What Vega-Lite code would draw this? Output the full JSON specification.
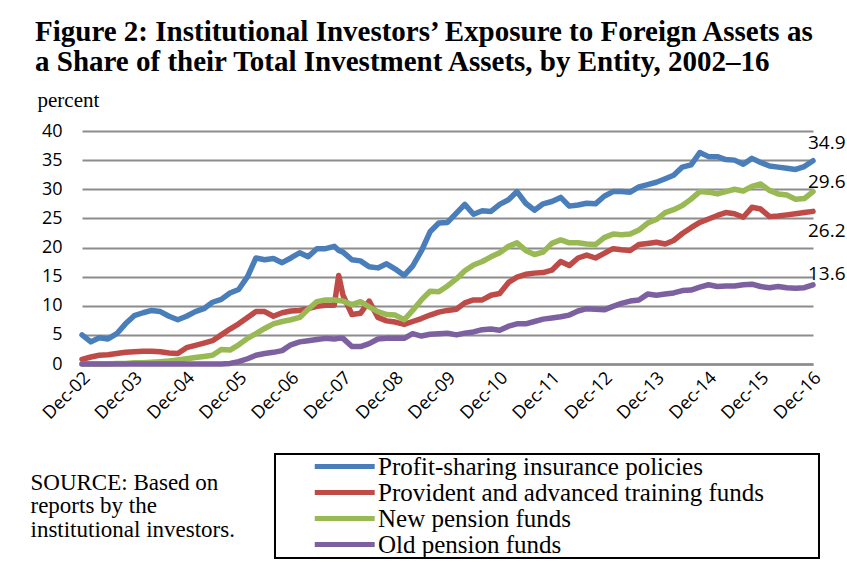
{
  "$schema": "https://vega.github.io/schema/vega-lite/v6.json",
  "width": 731,
  "height": 233,
  "autosize": {"type": "none"},
  "padding": {"left": 82, "top": 131, "right": 34, "bottom": 198},
  "background": "white",
  "title": {
    "text": ["Figure 2: Institutional Investors’ Exposure to Foreign Assets as", "a Share of their Total Investment Assets, by Entity, 2002–16"],
    "anchor": "start",
    "frame": "group",
    "font": "Liberation Serif",
    "fontSize": 29,
    "fontWeight": "bold",
    "color": "black",
    "lineHeight": 30,
    "dx": -47,
    "dy": -2,
    "offset": 10
  },
  "data": {
    "format": {"parse": {"d": "utc:'%Y-%m'"}},
    "values": [
      {"d": "2002-12", "p": 5.0, "r": 0.8, "n": 0.0, "o": 0.0},
      {"d": "2003-02", "p": 3.8, "r": 1.2, "n": 0.0, "o": 0.0},
      {"d": "2003-04", "p": 4.5, "r": 1.5, "n": 0.0, "o": 0.0},
      {"d": "2003-06", "p": 4.3, "r": 1.6, "n": 0.0, "o": 0.0},
      {"d": "2003-08", "p": 5.2, "r": 1.8, "n": 0.1, "o": 0.0},
      {"d": "2003-10", "p": 6.9, "r": 2.0, "n": 0.1, "o": 0.0},
      {"d": "2003-12", "p": 8.3, "r": 2.1, "n": 0.2, "o": 0.0},
      {"d": "2004-02", "p": 8.8, "r": 2.2, "n": 0.2, "o": 0.0},
      {"d": "2004-04", "p": 9.2, "r": 2.2, "n": 0.3, "o": 0.0},
      {"d": "2004-06", "p": 9.0, "r": 2.1, "n": 0.4, "o": 0.0},
      {"d": "2004-08", "p": 8.2, "r": 1.9, "n": 0.5, "o": 0.0},
      {"d": "2004-10", "p": 7.6, "r": 1.8, "n": 0.7, "o": 0.0},
      {"d": "2004-12", "p": 8.2, "r": 2.8, "n": 0.9, "o": 0.0},
      {"d": "2005-02", "p": 9.0, "r": 3.2, "n": 1.1, "o": 0.0},
      {"d": "2005-04", "p": 9.5, "r": 3.6, "n": 1.3, "o": 0.0},
      {"d": "2005-06", "p": 10.6, "r": 4.0, "n": 1.5, "o": 0.0},
      {"d": "2005-08", "p": 11.1, "r": 5.0, "n": 2.5, "o": 0.0},
      {"d": "2005-10", "p": 12.2, "r": 6.0, "n": 2.4, "o": 0.1},
      {"d": "2005-12", "p": 12.8, "r": 6.9, "n": 3.3, "o": 0.4},
      {"d": "2006-02", "p": 15.0, "r": 8.0, "n": 4.4, "o": 0.9},
      {"d": "2006-04", "p": 18.2, "r": 9.0, "n": 5.2, "o": 1.5},
      {"d": "2006-06", "p": 17.9, "r": 9.0, "n": 6.1, "o": 1.8},
      {"d": "2006-08", "p": 18.1, "r": 8.2, "n": 6.9, "o": 2.0},
      {"d": "2006-10", "p": 17.4, "r": 8.8, "n": 7.3, "o": 2.3},
      {"d": "2006-12", "p": 18.2, "r": 9.1, "n": 7.6, "o": 3.3},
      {"d": "2007-02", "p": 19.1, "r": 9.2, "n": 8.0, "o": 3.8},
      {"d": "2007-04", "p": 18.4, "r": 9.5, "n": 9.4, "o": 4.0},
      {"d": "2007-06", "p": 19.8, "r": 9.9, "n": 10.7, "o": 4.2},
      {"d": "2007-08", "p": 19.8, "r": 10.1, "n": 11.0, "o": 4.4},
      {"d": "2007-10", "p": 20.2, "r": 10.1, "n": 11.0, "o": 4.3},
      {"d": "2007-11", "p": 19.5, "r": 15.2, "n": 10.9, "o": 4.4},
      {"d": "2007-12", "p": 19.2, "r": 11.8, "n": 10.8, "o": 4.4},
      {"d": "2008-02", "p": 17.9, "r": 8.5, "n": 10.2, "o": 3.0},
      {"d": "2008-04", "p": 17.7, "r": 8.7, "n": 10.7, "o": 3.0},
      {"d": "2008-06", "p": 16.7, "r": 10.8, "n": 9.8, "o": 3.5},
      {"d": "2008-08", "p": 16.5, "r": 8.0, "n": 9.0, "o": 4.3},
      {"d": "2008-10", "p": 17.2, "r": 7.4, "n": 8.5, "o": 4.4},
      {"d": "2008-12", "p": 16.3, "r": 7.2, "n": 8.4, "o": 4.4},
      {"d": "2009-02", "p": 15.2, "r": 6.8, "n": 7.6, "o": 4.4},
      {"d": "2009-04", "p": 16.8, "r": 7.3, "n": 9.2, "o": 5.2},
      {"d": "2009-06", "p": 19.4, "r": 7.8, "n": 11.0, "o": 4.8},
      {"d": "2009-08", "p": 22.7, "r": 8.4, "n": 12.5, "o": 5.1},
      {"d": "2009-10", "p": 24.2, "r": 8.9, "n": 12.4, "o": 5.2},
      {"d": "2009-12", "p": 24.3, "r": 9.2, "n": 13.4, "o": 5.3},
      {"d": "2010-02", "p": 25.9, "r": 9.4, "n": 14.6, "o": 5.0},
      {"d": "2010-04", "p": 27.4, "r": 10.5, "n": 16.0, "o": 5.3},
      {"d": "2010-06", "p": 25.7, "r": 11.0, "n": 17.0, "o": 5.5},
      {"d": "2010-08", "p": 26.3, "r": 11.0, "n": 17.6, "o": 5.9},
      {"d": "2010-10", "p": 26.2, "r": 11.8, "n": 18.4, "o": 6.0},
      {"d": "2010-12", "p": 27.4, "r": 12.1, "n": 19.1, "o": 5.8},
      {"d": "2011-02", "p": 28.2, "r": 14.0, "n": 20.2, "o": 6.5},
      {"d": "2011-04", "p": 29.6, "r": 14.9, "n": 20.8, "o": 6.9},
      {"d": "2011-06", "p": 27.6, "r": 15.4, "n": 19.5, "o": 6.9},
      {"d": "2011-08", "p": 26.4, "r": 15.6, "n": 18.8, "o": 7.3},
      {"d": "2011-10", "p": 27.5, "r": 15.7, "n": 19.2, "o": 7.7},
      {"d": "2011-12", "p": 27.9, "r": 16.1, "n": 20.7, "o": 7.9},
      {"d": "2012-02", "p": 28.6, "r": 17.6, "n": 21.3, "o": 8.1},
      {"d": "2012-04", "p": 27.1, "r": 16.9, "n": 20.8, "o": 8.4},
      {"d": "2012-06", "p": 27.3, "r": 18.2, "n": 20.8, "o": 9.1},
      {"d": "2012-08", "p": 27.6, "r": 18.7, "n": 20.6, "o": 9.5},
      {"d": "2012-10", "p": 27.5, "r": 18.2, "n": 20.5, "o": 9.4},
      {"d": "2012-12", "p": 28.8, "r": 19.0, "n": 21.7, "o": 9.3},
      {"d": "2013-02", "p": 29.6, "r": 19.8, "n": 22.3, "o": 9.9},
      {"d": "2013-04", "p": 29.6, "r": 19.6, "n": 22.2, "o": 10.4},
      {"d": "2013-06", "p": 29.5, "r": 19.5, "n": 22.3, "o": 10.8},
      {"d": "2013-08", "p": 30.4, "r": 20.5, "n": 23.0, "o": 11.0},
      {"d": "2013-10", "p": 30.8, "r": 20.7, "n": 24.2, "o": 12.0},
      {"d": "2013-12", "p": 31.2, "r": 20.9, "n": 24.8, "o": 11.8},
      {"d": "2014-02", "p": 31.8, "r": 20.6, "n": 26.0, "o": 12.0},
      {"d": "2014-04", "p": 32.4, "r": 21.2, "n": 26.5, "o": 12.2},
      {"d": "2014-06", "p": 33.8, "r": 22.4, "n": 27.2, "o": 12.6},
      {"d": "2014-08", "p": 34.2, "r": 23.4, "n": 28.3, "o": 12.7},
      {"d": "2014-10", "p": 36.3, "r": 24.3, "n": 29.6, "o": 13.2},
      {"d": "2014-12", "p": 35.6, "r": 24.9, "n": 29.5, "o": 13.6},
      {"d": "2015-02", "p": 35.6, "r": 25.5, "n": 29.2, "o": 13.3},
      {"d": "2015-04", "p": 35.1, "r": 26.0, "n": 29.6, "o": 13.4},
      {"d": "2015-06", "p": 35.0, "r": 25.8, "n": 30.0, "o": 13.4},
      {"d": "2015-08", "p": 34.3, "r": 25.2, "n": 29.7, "o": 13.6},
      {"d": "2015-10", "p": 35.3, "r": 26.9, "n": 30.5, "o": 13.7},
      {"d": "2015-12", "p": 34.6, "r": 26.6, "n": 30.9, "o": 13.3},
      {"d": "2016-02", "p": 34.0, "r": 25.3, "n": 29.8, "o": 13.1},
      {"d": "2016-04", "p": 33.8, "r": 25.4, "n": 29.2, "o": 13.3},
      {"d": "2016-06", "p": 33.6, "r": 25.6, "n": 29.0, "o": 13.1},
      {"d": "2016-08", "p": 33.4, "r": 25.8, "n": 28.3, "o": 13.0},
      {"d": "2016-10", "p": 33.9, "r": 26.0, "n": 28.4, "o": 13.1},
      {"d": "2016-12", "p": 34.9, "r": 26.2, "n": 29.6, "o": 13.6}
    ]
  },
  "transform": [{"fold": ["p", "r", "n", "o"], "as": ["s", "v"]}],
  "encoding": {
    "x": {
      "field": "d",
      "type": "temporal",
      "scale": {"type": "utc", "domain": [{"year": 2002, "month": 12, "date": 1, "utc": true}, {"year": 2016, "month": 12, "date": 1, "utc": true}]},
      "axis": {
        "values": [
          {"year": 2002, "month": 12, "date": 1, "utc": true},
          {"year": 2003, "month": 12, "date": 1, "utc": true},
          {"year": 2004, "month": 12, "date": 1, "utc": true},
          {"year": 2005, "month": 12, "date": 1, "utc": true},
          {"year": 2006, "month": 12, "date": 1, "utc": true},
          {"year": 2007, "month": 12, "date": 1, "utc": true},
          {"year": 2008, "month": 12, "date": 1, "utc": true},
          {"year": 2009, "month": 12, "date": 1, "utc": true},
          {"year": 2010, "month": 12, "date": 1, "utc": true},
          {"year": 2011, "month": 12, "date": 1, "utc": true},
          {"year": 2012, "month": 12, "date": 1, "utc": true},
          {"year": 2013, "month": 12, "date": 1, "utc": true},
          {"year": 2014, "month": 12, "date": 1, "utc": true},
          {"year": 2015, "month": 12, "date": 1, "utc": true},
          {"year": 2016, "month": 12, "date": 1, "utc": true}
        ],
        "format": "%b-%y",
        "labelAngle": -45,
        "labelAlign": "right",
        "labelBaseline": "middle",
        "labelPadding": 11,
        "labelOffset": 5,
        "labelOverlap": false,
        "labelBound": false,
        "labelFlush": false,
        "grid": false,
        "domain": true,
        "domainColor": "#8c8c8c",
        "domainWidth": 2.5,
        "title": ["SOURCE:  Based on", "reports by the", "institutional investors."],
        "titleFont": "Liberation Serif",
        "titleFontSize": 23,
        "titleFontWeight": "normal",
        "titleColor": "black",
        "titleAlign": "left",
        "titleAnchor": "start",
        "titleBaseline": "top",
        "titleLineHeight": 23.5,
        "titleX": -52,
        "titleY": 107
      }
    },
    "y": {
      "field": "v",
      "type": "quantitative",
      "scale": {"domain": [0, 40], "nice": false},
      "axis": {
        "values": [0, 5, 10, 15, 20, 25, 30, 35, 40],
        "grid": true,
        "gridColor": "#8c8c8c",
        "gridWidth": 2,
        "domain": false,
        "labelPadding": 20,
        "title": "percent",
        "titleFont": "Liberation Serif",
        "titleFontSize": 21,
        "titleFontWeight": "normal",
        "titleColor": "black",
        "titleAngle": 0,
        "titleAlign": "left",
        "titleBaseline": "middle",
        "titleX": -45,
        "titleY": -31
      }
    }
  },
  "layer": [
    {
      "mark": {"type": "line", "strokeWidth": 5.5, "strokeCap": "round", "strokeJoin": "round"},
      "encoding": {
        "color": {
          "field": "s",
          "type": "nominal",
          "scale": {"domain": ["p", "r", "n", "o"], "range": ["#4A7EBB", "#BE4B48", "#98B954", "#7D60A0"]},
          "legend": {
            "orient": "none",
            "legendX": 193,
            "legendY": 323,
            "title": ".",
            "titleOrient": "right",
            "titleOpacity": 0,
            "titleFontSize": 8,
            "titlePadding": 52,
            "labelExpr": "datum.value == 'p' ? 'Profit-sharing insurance policies' : datum.value == 'r' ? 'Provident and advanced training funds' : datum.value == 'n' ? 'New pension funds' : 'Old pension funds'",
            "labelFont": "Liberation Serif",
            "labelFontSize": 25,
            "labelColor": "black",
            "labelLimit": 700,
            "labelOffset": 41,
            "symbolType": "M-1,0L5.15,0",
            "symbolSize": 380,
            "symbolStrokeWidth": 5,
            "symbolOffset": 37,
            "rowPadding": 0,
            "padding": 0,
            "strokeColor": "black"
          }
        }
      }
    },
    {
      "transform": [{"filter": "datum.s == 'p' && utcyear(datum.d) == 2016 && utcmonth(datum.d) == 11"}],
      "mark": {"type": "text", "align": "left", "baseline": "middle", "dx": -5, "dy": -18, "font": "Open Sans", "fontSize": 19, "color": "black"},
      "encoding": {"text": {"field": "v", "type": "quantitative", "format": ".1f"}}
    },
    {
      "transform": [{"filter": "datum.s == 'n' && utcyear(datum.d) == 2016 && utcmonth(datum.d) == 11"}],
      "mark": {"type": "text", "align": "left", "baseline": "middle", "dx": -5, "dy": -10, "font": "Open Sans", "fontSize": 19, "color": "black"},
      "encoding": {"text": {"field": "v", "type": "quantitative", "format": ".1f"}}
    },
    {
      "transform": [{"filter": "datum.s == 'r' && utcyear(datum.d) == 2016 && utcmonth(datum.d) == 11"}],
      "mark": {"type": "text", "align": "left", "baseline": "middle", "dx": -5, "dy": 20, "font": "Open Sans", "fontSize": 19, "color": "black"},
      "encoding": {"text": {"field": "v", "type": "quantitative", "format": ".1f"}}
    },
    {
      "transform": [{"filter": "datum.s == 'o' && utcyear(datum.d) == 2016 && utcmonth(datum.d) == 11"}],
      "mark": {"type": "text", "align": "left", "baseline": "middle", "dx": -5, "dy": -11, "font": "Open Sans", "fontSize": 19, "color": "black"},
      "encoding": {"text": {"field": "v", "type": "quantitative", "format": ".1f"}}
    }
  ],
  "config": {
    "view": {"stroke": null},
    "axis": {"labelFont": "Open Sans", "labelFontSize": 18, "labelColor": "black", "ticks": false},
    "legend": {"strokeWidth": 2}
  }
}
